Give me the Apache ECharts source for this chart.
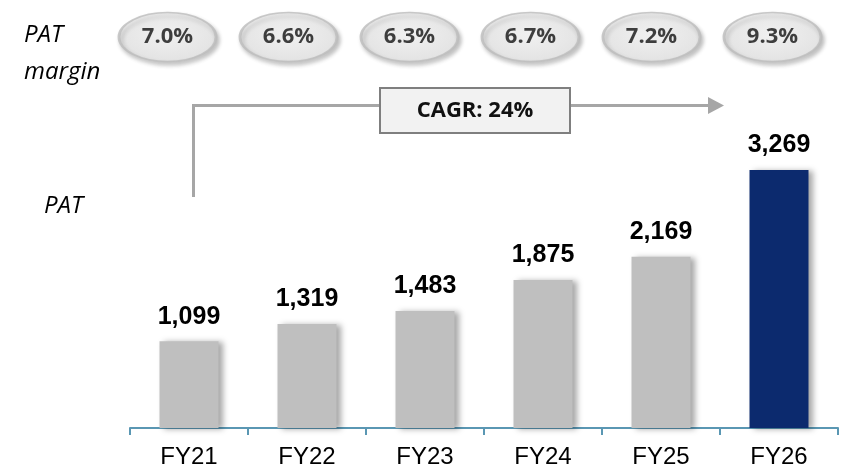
<!DOCTYPE html>
<html>
<head>
<meta charset="utf-8">
<script src="https://cdn.jsdelivr.net/npm/echarts@6/dist/echarts.min.js"></script>
<style>
  html, body { margin: 0; padding: 0; background: #ffffff; }
  #chart { width: 851px; height: 474px; }
</style>
</head>
<body>
<div id="chart"></div>
<script>
// Fiscal years, profit after tax and PAT margin per year
const years = ['FY21', 'FY22', 'FY23', 'FY24', 'FY25', 'FY26'];
const pat = [1099, 1319, 1483, 1875, 2169, 3269];
const patMargin = [7.0, 6.6, 6.3, 6.7, 7.2, 9.3];
const cagrText = 'CAGR: 24%';

const GREY = '#bfbfbf';
const NAVY = '#0c2a6e';
const SANS = "'Liberation Sans', Arial, sans-serif";
const ROUND = "'Open Sans', 'Noto Sans', sans-serif";

const chart = echarts.init(document.getElementById('chart'), null, { renderer: 'canvas' });

chart.setOption({
  backgroundColor: '#ffffff',
  animation: false,
  grid: [
    { left: 130, right: 13, top: 170, bottom: 46 },
    { left: 107, width: 726, top: 12, height: 50 }
  ],
  xAxis: [
    {
      type: 'category',
      gridIndex: 0,
      data: years,
      axisLine: { lineStyle: { color: '#5a97b3', width: 2 } },
      axisTick: { show: true, length: 7, lineStyle: { color: '#5a97b3', width: 2 } },
      axisLabel: { color: '#000', fontSize: 24, fontFamily: SANS, margin: 17 }
    },
    {
      type: 'category',
      gridIndex: 1,
      data: years,
      show: false
    }
  ],
  yAxis: [
    {
      type: 'value',
      gridIndex: 0,
      min: 0,
      max: function (e) { return e.max; },
      show: false,
      splitLine: { show: false }
    },
    {
      type: 'value',
      gridIndex: 1,
      min: -1,
      max: 1,
      show: false,
      splitLine: { show: false }
    }
  ],
  series: [
    {
      name: 'PAT',
      type: 'bar',
      xAxisIndex: 0,
      yAxisIndex: 0,
      barWidth: 59,
      data: pat.map((v, i) => ({
        value: v,
        itemStyle: { color: i === pat.length - 1 ? NAVY : GREY }
      })),
      itemStyle: {
        shadowColor: 'rgba(0,0,0,0.35)',
        shadowBlur: 6,
        shadowOffsetX: 4,
        shadowOffsetY: 1
      },
      label: {
        show: true,
        position: 'top',
        distance: 12,
        color: '#000',
        fontSize: 25,
        fontWeight: 'bold',
        fontFamily: SANS,
        formatter: p => p.value.toLocaleString('en-US')
      }
    },
    {
      name: 'PAT margin',
      type: 'scatter',
      xAxisIndex: 1,
      yAxisIndex: 1,
      symbol: 'circle',
      symbolSize: [97, 49],
      data: patMargin.map((v, i) => [i, 0, v]),
      itemStyle: {
        color: {
          type: 'radial', x: 0.5, y: 0.45, r: 0.6,
          colorStops: [
            { offset: 0, color: '#fbfbfb' },
            { offset: 1, color: '#e8e8e8' }
          ]
        },
        borderColor: '#bdbdbd',
        borderWidth: 2,
        shadowColor: 'rgba(0,0,0,0.28)',
        shadowBlur: 4,
        shadowOffsetX: 2,
        shadowOffsetY: 3
      },
      label: {
        show: true,
        position: 'inside',
        color: '#111',
        fontSize: 22,
        fontWeight: 'bold',
        fontFamily: ROUND,
        formatter: p => p.value[2].toFixed(1) + '%'
      }
    }
  ],
  graphic: [
    // row captions
    { type: 'text', left: 24, top: 23, style: { text: 'PAT', fontSize: 24, fontStyle: 'italic', fontFamily: ROUND, fill: '#000' } },
    { type: 'text', left: 24, top: 60, style: { text: 'margin', fontSize: 24, fontStyle: 'italic', fontFamily: ROUND, fill: '#000' } },
    { type: 'text', left: 44, top: 194, style: { text: 'PAT', fontSize: 24, fontStyle: 'italic', fontFamily: ROUND, fill: '#000' } },
    // growth arrow
    {
      type: 'polyline',
      shape: { points: [[193.5, 197], [193.5, 105.5], [710, 105.5]] },
      style: { stroke: '#a6a6a6', lineWidth: 3, fill: null }
    },
    {
      type: 'polygon',
      shape: { points: [[708, 97], [724, 105.5], [708, 114]] },
      style: { fill: '#a6a6a6' }
    },
    {
      type: 'rect',
      shape: { x: 380, y: 88, width: 190, height: 45 },
      style: { fill: '#f2f2f2', stroke: '#7f7f7f', lineWidth: 2 }
    },
    {
      type: 'text',
      x: 475, y: 111,
      style: {
        text: cagrText, fontSize: 22, fontWeight: 'bold', fontFamily: ROUND,
        fill: '#111', align: 'center', verticalAlign: 'middle'
      }
    }
  ]
});
</script>
</body>
</html>
